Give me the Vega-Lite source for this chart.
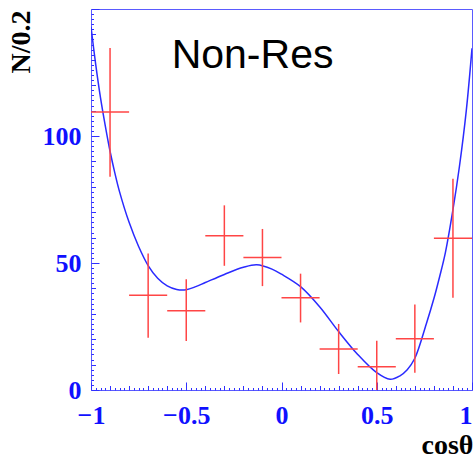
{
  "$schema": "https://vega.github.io/schema/vega-lite/v6.json",
  "width": 381,
  "height": 381,
  "autosize": {"type": "none"},
  "padding": {"left": 91, "top": 9, "right": 3, "bottom": 68},
  "background": "white",
  "config": {
    "view": {"stroke": "#5a5aff", "strokeWidth": 1},
    "axis": {"grid": false}
  },
  "datasets": {
    "fit": [
      {"cos": -1.0, "n": 143},
      {"cos": -0.975, "n": 128},
      {"cos": -0.95, "n": 115},
      {"cos": -0.925, "n": 104},
      {"cos": -0.9, "n": 94},
      {"cos": -0.875, "n": 85.5},
      {"cos": -0.85, "n": 78},
      {"cos": -0.8, "n": 66},
      {"cos": -0.75, "n": 56.5},
      {"cos": -0.7, "n": 49},
      {"cos": -0.65, "n": 44},
      {"cos": -0.6, "n": 41},
      {"cos": -0.55, "n": 39.6},
      {"cos": -0.5, "n": 39.5},
      {"cos": -0.45, "n": 40.7},
      {"cos": -0.4, "n": 42.3},
      {"cos": -0.3, "n": 45.5},
      {"cos": -0.2, "n": 48.3},
      {"cos": -0.13, "n": 49.3},
      {"cos": -0.05, "n": 47.6},
      {"cos": 0.0, "n": 45.6},
      {"cos": 0.1, "n": 40.7},
      {"cos": 0.2, "n": 32.8},
      {"cos": 0.3, "n": 23},
      {"cos": 0.4, "n": 14},
      {"cos": 0.5, "n": 6.8},
      {"cos": 0.57, "n": 4.2},
      {"cos": 0.62, "n": 5.5},
      {"cos": 0.66, "n": 8},
      {"cos": 0.7, "n": 12.5},
      {"cos": 0.76, "n": 26},
      {"cos": 0.8, "n": 36},
      {"cos": 0.83, "n": 44.6},
      {"cos": 0.86, "n": 54},
      {"cos": 0.9, "n": 71},
      {"cos": 0.934, "n": 88},
      {"cos": 0.97, "n": 110},
      {"cos": 1.0, "n": 134.5}
    ],
    "bins": [
      {"cos": -0.9, "lo_cos": -1.0, "hi_cos": -0.8, "n": 109.4, "lo": 84, "hi": 134.6},
      {"cos": -0.7, "lo_cos": -0.8, "hi_cos": -0.6, "n": 37.3, "lo": 20.6, "hi": 53.7},
      {"cos": -0.5, "lo_cos": -0.6, "hi_cos": -0.4, "n": 31.2, "lo": 19.3, "hi": 43.6},
      {"cos": -0.3, "lo_cos": -0.4, "hi_cos": -0.2, "n": 60.7, "lo": 48.9, "hi": 72.7},
      {"cos": -0.1, "lo_cos": -0.2, "hi_cos": 0.0, "n": 52.2, "lo": 40.9, "hi": 63.4},
      {"cos": 0.1, "lo_cos": 0.0, "hi_cos": 0.2, "n": 36.3, "lo": 26.6, "hi": 45.8},
      {"cos": 0.3, "lo_cos": 0.2, "hi_cos": 0.4, "n": 16.1, "lo": 6.3, "hi": 26.0},
      {"cos": 0.5, "lo_cos": 0.4, "hi_cos": 0.6, "n": 9.2, "lo": 0.0, "hi": 19.4},
      {"cos": 0.7, "lo_cos": 0.6, "hi_cos": 0.8, "n": 20.2, "lo": 6.8, "hi": 33.7},
      {"cos": 0.9, "lo_cos": 0.8, "hi_cos": 1.0, "n": 59.7, "lo": 36.3, "hi": 83.2}
    ]
  },
  "resolve": {"axis": {"x": "independent", "y": "independent"}},
  "layer": [
    {
      "data": {"name": "fit"},
      "mark": {"type": "line", "color": "#2a2aff", "strokeWidth": 1.5, "interpolate": "catmull-rom", "clip": true},
      "encoding": {
        "x": {
          "field": "cos", "type": "quantitative",
          "scale": {"domain": [-1, 1], "nice": false, "zero": false},
          "axis": {
            "orient": "bottom", "values": [-1, -0.5, 0, 0.5, 1], "format": "~g",
            "ticks": false, "domain": false, "labelPadding": 12,
            "labelFont": "Liberation Serif", "labelFontWeight": "bold", "labelFontSize": 26,
            "labelColor": "#1010ff", "labelFlush": false, "labelOverlap": false,
            "labelAlign": {"condition": {"test": "datum.value == 1", "value": "right"}, "value": "center"},
            "title": "cosθ", "titleFont": "Liberation Serif", "titleFontWeight": "bold",
            "titleFontSize": 28, "titleColor": "black", "titleAlign": "right",
            "titleAnchor": null, "titleX": 382, "titleY": 63, "titleBaseline": "alphabetic"
          }
        },
        "y": {
          "field": "n", "type": "quantitative",
          "scale": {"domain": [0, 150], "nice": false, "zero": false},
          "axis": {
            "orient": "left", "values": [0, 50, 100],
            "ticks": false, "domain": false, "labelPadding": 10,
            "labelFont": "Liberation Serif", "labelFontWeight": "bold", "labelFontSize": 26,
            "labelColor": "#1010ff", "labelFlush": false, "labelOverlap": false,
            "title": "N/0.2", "titleFont": "Liberation Serif", "titleFontWeight": "bold",
            "titleFontSize": 28, "titleColor": "black", "titleAngle": -90, "titleAlign": "right",
            "titleAnchor": null, "titleX": -70, "titleY": 1, "titleBaseline": "middle"
          }
        }
      }
    },
    {
      "data": {"name": "bins"},
      "mark": {"type": "rule", "color": "#ff4545", "strokeWidth": 1.5},
      "encoding": {
        "x": {
          "field": "cos", "type": "quantitative",
          "axis": {"orient": "bottom", "values": [-1, -0.5, 0, 0.5, 1], "labels": false, "domain": false,
                   "title": null, "tickSize": -8, "tickColor": "#3030ff", "tickWidth": 1}
        },
        "y": {
          "field": "lo", "type": "quantitative",
          "axis": {"orient": "left", "values": [0, 50, 100, 150], "labels": false, "domain": false,
                   "title": null, "tickSize": -8, "tickColor": "#3030ff", "tickWidth": 1}
        },
        "y2": {"field": "hi"}
      }
    },
    {
      "data": {"name": "bins"},
      "mark": {"type": "rule", "color": "#ff4545", "strokeWidth": 1.5},
      "encoding": {
        "x": {
          "field": "lo_cos", "type": "quantitative",
          "axis": {"orient": "bottom", "values": [-0.9, -0.8, -0.7, -0.6, -0.4, -0.3, -0.2, -0.1, 0.1, 0.2, 0.3, 0.4, 0.6, 0.7, 0.8, 0.9],
                   "labels": false, "domain": false, "title": null, "tickSize": -4.5, "tickColor": "#3030ff", "tickWidth": 1}
        },
        "x2": {"field": "hi_cos"},
        "y": {
          "field": "n", "type": "quantitative",
          "axis": {"orient": "left", "values": [10, 20, 30, 40, 60, 70, 80, 90, 110, 120, 130, 140],
                   "labels": false, "domain": false, "title": null, "tickSize": -4.5, "tickColor": "#3030ff", "tickWidth": 1}
        }
      }
    },
    {
      "data": {"values": [{"label": "Non-Res"}]},
      "mark": {"type": "text", "font": "Liberation Sans", "fontSize": 41, "color": "black", "align": "center", "baseline": "alphabetic"},
      "encoding": {
        "text": {"field": "label", "type": "nominal"},
        "x": {
          "datum": -0.152, "type": "quantitative",
          "axis": {"orient": "bottom",
                   "values": [-0.975, -0.95, -0.925, -0.875, -0.85, -0.825, -0.775, -0.75, -0.725, -0.675, -0.65, -0.625, -0.575, -0.55, -0.525, -0.475, -0.45, -0.425, -0.375, -0.35, -0.325, -0.275, -0.25, -0.225, -0.175, -0.15, -0.125, -0.075, -0.05, -0.025, 0.025, 0.05, 0.075, 0.125, 0.15, 0.175, 0.225, 0.25, 0.275, 0.325, 0.35, 0.375, 0.425, 0.45, 0.475, 0.525, 0.55, 0.575, 0.625, 0.65, 0.675, 0.725, 0.75, 0.775, 0.825, 0.85, 0.875, 0.925, 0.95, 0.975],
                   "labels": false, "domain": false, "title": null, "tickSize": -2.5, "tickColor": "#3030ff", "tickWidth": 1}
        },
        "y": {
          "datum": 126.8, "type": "quantitative",
          "axis": {"orient": "left",
                   "values": [2, 4, 6, 8, 12, 14, 16, 18, 22, 24, 26, 28, 32, 34, 36, 38, 42, 44, 46, 48, 52, 54, 56, 58, 62, 64, 66, 68, 72, 74, 76, 78, 82, 84, 86, 88, 92, 94, 96, 98, 102, 104, 106, 108, 112, 114, 116, 118, 122, 124, 126, 128, 132, 134, 136, 138, 142, 144, 146, 148],
                   "labels": false, "domain": false, "title": null, "tickSize": -2.5, "tickColor": "#3030ff", "tickWidth": 1}
        }
      }
    }
  ]
}
